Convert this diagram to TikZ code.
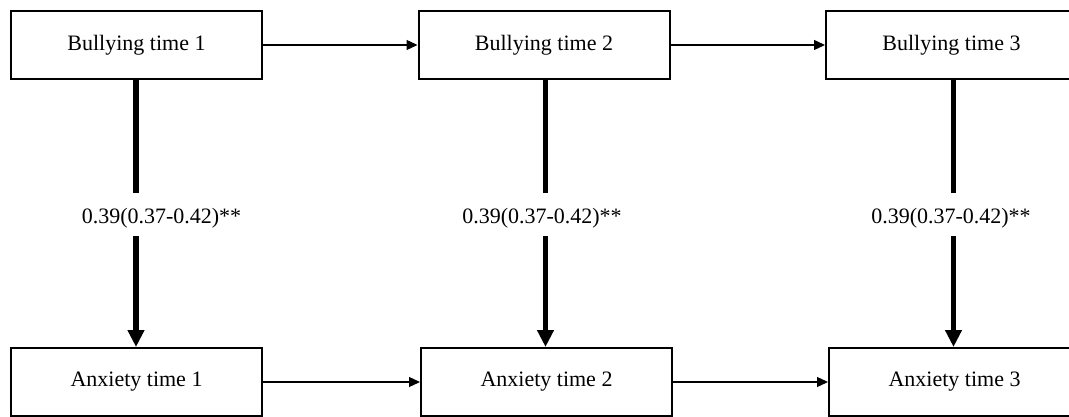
\documentclass[tikz,border=0pt]{standalone}
\usepackage{fontspec}
\setmainfont{Liberation Serif}
\usetikzlibrary{arrows.meta}
\begin{document}
\begin{tikzpicture}[x=1pt,y=-1pt,
  box/.style={draw=black,line width=2pt,minimum width=251pt,minimum height=68pt,inner sep=0pt,font=\fontsize{22}{26}\selectfont},
  thin/.style={line width=1.3pt,-{Triangle[width=10pt,length=11pt]}},
  thick/.style={line width=5.5pt,-{Triangle[width=16pt,length=17pt]}},
  lab/.style={fill=white,inner xsep=1pt,inner ysep=0pt,text height=30pt,text depth=13pt,anchor=base,font=\fontsize{22}{26}\selectfont}]
\useasboundingbox (0,0) rectangle (1069,417);
\clip (0,0) rectangle (1069,417);
\node[box] (b1) at (136.5,45) {Bullying time 1};
\node[box] (b2) at (544,45) {Bullying time 2};
\node[box] (b3) at (951.5,45) {Bullying time 3};
\node[box] (a1) at (136.5,382) {Anxiety time 1};
\node[box] (a2) at (546.5,382) {Anxiety time 2};
\node[box] (a3) at (954.5,382) {Anxiety time 3};
\draw[thin] (b1.east) -- (b2.west);
\draw[thin] (b2.east) -- (b3.west);
\draw[thin] (a1.east) -- (a2.west);
\draw[thin] (a2.east) -- (a3.west);
\draw[thick] (b1.south -| 136,0) -- (a1.north -| 136,0);
\draw[thick] (b2.south -| 545.5,0) -- (a2.north -| 545.5,0);
\draw[thick] (b3.south -| 953.5,0) -- (a3.north -| 953.5,0);
\node[lab] (l1) at (161.5,223) {0.39(0.37-0.42)**};
\node[lab] (l2) at (542,223) {0.39(0.37-0.42)**};
\node[lab] (l3) at (951,223) {0.39(0.37-0.42)**};
\end{tikzpicture}
\end{document}
